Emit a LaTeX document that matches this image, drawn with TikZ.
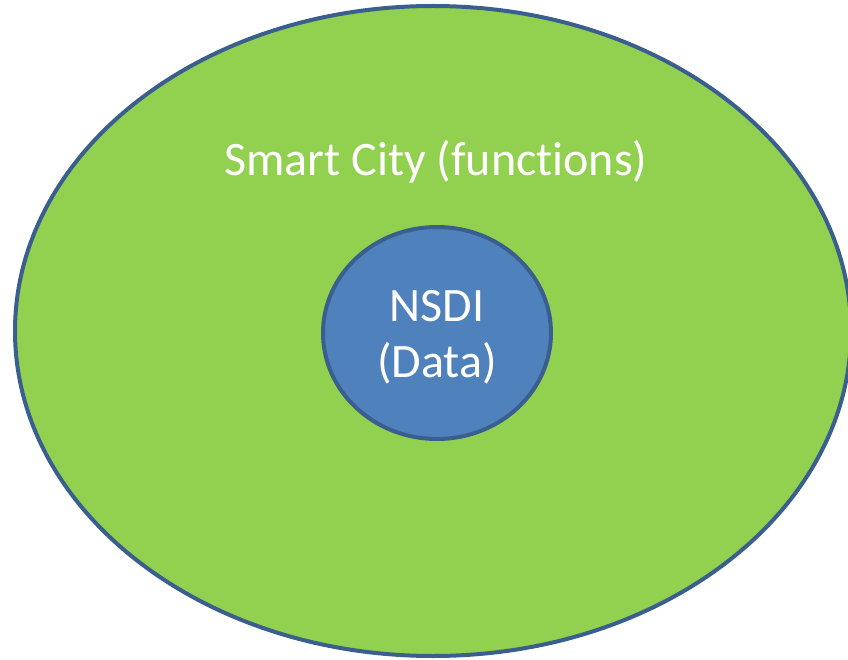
\documentclass[tikz,border=0pt]{standalone}
\usepackage{fontspec}
\setmainfont[Ligatures={NoCommon,NoRare,NoContextual}]{Carlito}
\definecolor{leaf}{HTML}{92D050}
\definecolor{steel}{HTML}{4F81BD}
\definecolor{rim}{HTML}{3A5F8E}
\begin{document}
\begin{tikzpicture}[x=1pt,y=-1pt,
  blob/.style={draw=rim,line width=4pt},
  label/.style={text=white,font=\fontsize{48}{56}\selectfont,align=center,inner sep=0pt}]
\useasboundingbox (0,0) rectangle (848,660);
\begin{scope}
  \clip (0,0) rectangle (848,660);
  % outer region: the city functions
  \path[blob,fill=leaf] (433,331) ellipse [x radius=418, y radius=325];
  \coordinate (city) at (436,162);
  % inner region: the data infrastructure
  \path[blob,fill=steel] (437,333) ellipse [x radius=114, y radius=106];
  \coordinate (nsdi) at (437,337);
\end{scope}
\node[label] (citytext) at (city) {Smart City (func\kern0pt tions)};
\node[label] (nsditext) at (nsdi) {NSDI\\(Data)};
\end{tikzpicture}
\end{document}
